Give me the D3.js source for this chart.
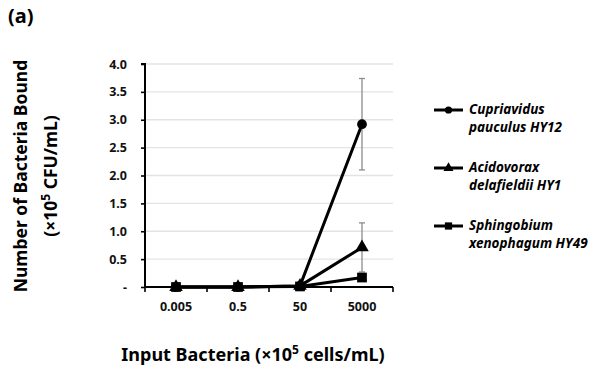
<!DOCTYPE html>
<html>
<head>
	<meta charset="utf-8">
	<script src="https://cdnjs.cloudflare.com/ajax/libs/d3/7.8.5/d3.min.js"></script>
	<style>
		body { margin: 0; background: #fff; }
		text { font-family: "Noto Sans", "Open Sans", sans-serif; font-weight: bold; }
	</style>
</head>
<body>
	<script type="text/javascript">

		// data
		let categories = ['0.005', '0.5', '50', '5000'];
		let yTicks = [0, 0.5, 1, 1.5, 2, 2.5, 3, 3.5, 4];
		let seriesNames = [['Cupriavidus', 'pauculus HY12'], ['Acidovorax', 'delafieldii HY1'], ['Sphingobium', 'xenophagum HY49']];
		let cupriavidus = [0.0, 0.0, 0.02, 2.92];
		let cupriavidusErr = [0, 0, 0.01, 0.82];
		let acidovorax = [0.0, 0.0, 0.02, 0.71];
		let acidovoraxErr = [0, 0, 0.01, 0.44];
		let sphingobium = [0.0, 0.0, 0.01, 0.17];
		let sphingobiumErr = [0, 0, 0.01, 0.06];
		let markers = [d3.symbolCircle, d3.symbolTriangle, d3.symbolSquare];
		let markerSizes = [75, 80, 95];

		let svg = d3.select('body').append('svg')
			.attr('width', 597)
			.attr('height', 370);

		let x = d3.scaleBand().domain(categories).range([145, 393]);
		let y = d3.scaleLinear().domain([0, 4]).range([287, 64]);

		// gridlines
		svg.append('g').selectAll('line').data(yTicks.slice(1)).enter().append('line')
			.attr('x1', 145).attr('x2', 393)
			.attr('y1', y).attr('y2', y)
			.attr('stroke', '#e3e3e3').attr('stroke-width', 1.3);

		// y axis
		let yAxis = d3.axisLeft(y).tickValues(yTicks).tickSize(4).tickPadding(14)
			.tickFormat(d => d === 0 ? '-' : d3.format('.1f')(d));
		let gy = svg.append('g').attr('transform', 'translate(145,0)').call(yAxis);
		gy.select('.domain').attr('stroke-width', 2).attr('d', 'M-4,' + y(4) + 'H0V' + y(0));
		gy.selectAll('.tick line').attr('stroke-width', 1.6);
		gy.selectAll('text').attr('font-size', 12.5).attr('fill', '#111');

		// x axis, ticks at category boundaries
		let gx = svg.append('g').attr('transform', 'translate(0,' + y(0) + ')');
		gx.append('line').attr('x1', 145).attr('x2', 393).attr('stroke', '#000').attr('stroke-width', 2);
		let bounds = categories.map(c => x(c)).concat([x(categories[3]) + x.bandwidth()]);
		gx.selectAll('.bt').data(bounds).enter().append('line')
			.attr('x1', d => d).attr('x2', d => d).attr('y1', 0).attr('y2', 5)
			.attr('stroke', '#000').attr('stroke-width', 1.6);
		gx.selectAll('.lbl').data(categories).enter().append('text')
			.attr('x', d => x(d) + x.bandwidth() / 2).attr('y', 24)
			.attr('text-anchor', 'middle').attr('font-size', 12.5).attr('fill', '#111')
			.text(d => d);

		let series = [
			{ vals: cupriavidus, err: cupriavidusErr },
			{ vals: acidovorax, err: acidovoraxErr },
			{ vals: sphingobium, err: sphingobiumErr }
		];
		let cx = d => x(d) + x.bandwidth() / 2;

		// error bars
		series.forEach(function (s) {
			let g = svg.append('g').attr('stroke', '#8c8c8c').attr('stroke-width', 1.3);
			categories.forEach(function (c, i) {
				if (s.err[i] < 0.05) return;
				let top = y(s.vals[i] + s.err[i]), bot = y(Math.max(0, s.vals[i] - s.err[i]));
				g.append('line').attr('x1', cx(c)).attr('x2', cx(c)).attr('y1', top).attr('y2', bot);
				g.append('line').attr('x1', cx(c) - 3).attr('x2', cx(c) + 3).attr('y1', top).attr('y2', top);
				g.append('line').attr('x1', cx(c) - 3).attr('x2', cx(c) + 3).attr('y1', bot).attr('y2', bot);
			});
		});

		// lines and markers
		let line = d3.line().x((d, i) => cx(categories[i])).y(d => y(d));
		series.forEach(function (s, k) {
			svg.append('path').datum(s.vals)
				.attr('d', line).attr('fill', 'none')
				.attr('stroke', '#000').attr('stroke-width', 3).attr('stroke-linejoin', 'round');
			svg.append('g').selectAll('path').data(s.vals).enter().append('path')
				.attr('d', d3.symbol().type(markers[k]).size(markerSizes[k]))
				.attr('transform', (d, i) => 'translate(' + cx(categories[i]) + ',' + y(d) + ')')
				.attr('fill', '#000');
		});

		// legend
		let legendY = [110, 168, 226];
		seriesNames.forEach(function (n, k) {
			let g = svg.append('g').attr('transform', 'translate(0,' + legendY[k] + ')');
			g.append('line').attr('x1', 434).attr('x2', 463).attr('stroke', '#000').attr('stroke-width', 3);
			g.append('path').attr('d', d3.symbol().type(markers[k]).size(markerSizes[k] * 0.55))
				.attr('transform', 'translate(448.5,0)').attr('fill', '#000');
			g.append('text').attr('x', 469).attr('y', 4).attr('font-size', 13.5).attr('font-style', 'italic').text(n[0]);
			g.append('text').attr('x', 469).attr('y', 22).attr('font-size', 13.5).attr('font-style', 'italic').text(n[1]);
		});

		// titles
		svg.append('text').attr('x', 8).attr('y', 23).attr('font-size', 20).text('(a)');

		let yt = svg.append('text').attr('transform', 'translate(27,176) rotate(-90)')
			.attr('text-anchor', 'middle').attr('font-size', 17.5);
		yt.text('Number of Bacteria Bound');
		let yt2 = svg.append('text').attr('transform', 'translate(57,176) rotate(-90)')
			.attr('text-anchor', 'middle').attr('font-size', 17.5);
		yt2.append('tspan').text('(×10');
		yt2.append('tspan').attr('dy', -7).attr('font-size', 12).text('5');
		yt2.append('tspan').attr('dy', 7).text(' CFU/mL)');

		let xt = svg.append('text').attr('x', 253).attr('y', 361)
			.attr('text-anchor', 'middle').attr('font-size', 18);
		xt.append('tspan').text('Input Bacteria (×10');
		xt.append('tspan').attr('dy', -7).attr('font-size', 12).text('5');
		xt.append('tspan').attr('dy', 7).text(' cells/mL)');

	</script>
</body>
</html>
